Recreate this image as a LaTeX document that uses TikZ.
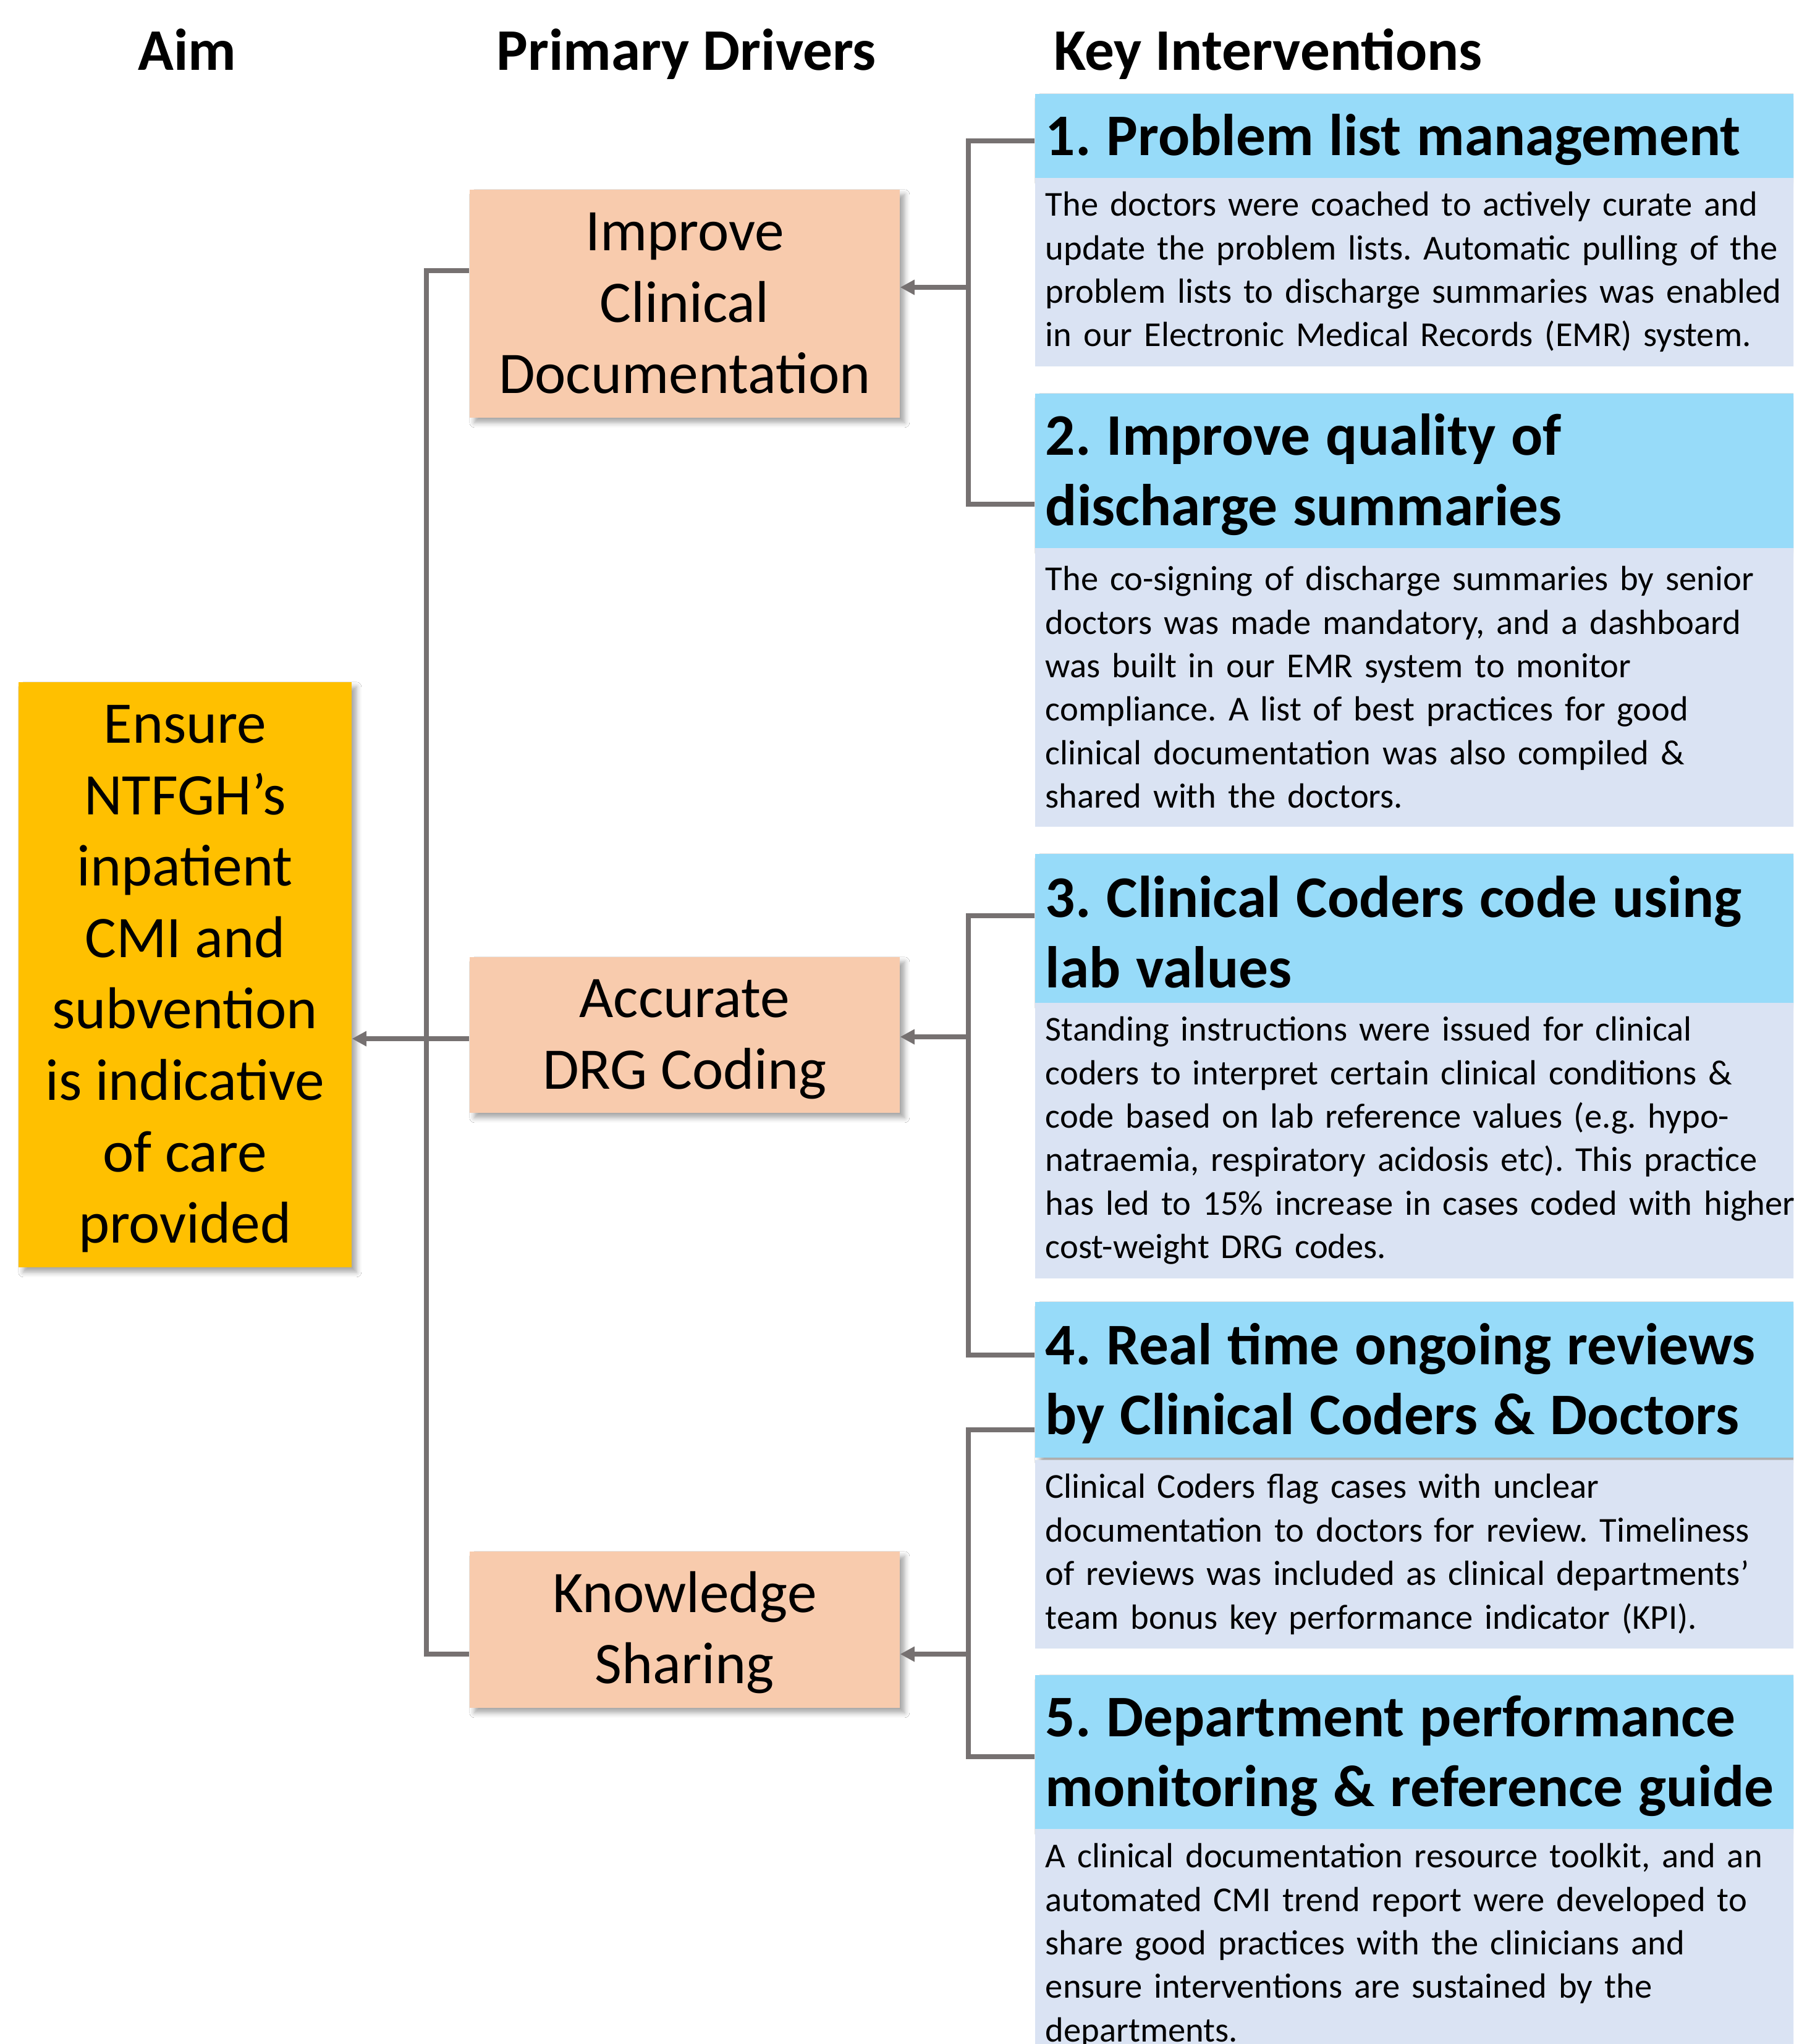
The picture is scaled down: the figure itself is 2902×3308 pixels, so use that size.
\documentclass[tikz,border=0pt]{standalone}
\usepackage{fontspec}
\setmainfont{Carlito}
\usetikzlibrary{arrows.meta,shadows.blur}
\definecolor{aimcol}{HTML}{FFC000}
\definecolor{drvcol}{HTML}{F8CBAD}
\definecolor{hdrcol}{RGB}{151,219,249}
\definecolor{bodycol}{HTML}{DAE3F3}
\definecolor{linecol}{HTML}{767171}
\frenchspacing
\newcommand{\bigstrut}{\rule[-7.0pt]{0pt}{28.9pt}}
\tikzset{
  softshadow/.style={blur shadow={shadow xshift=2pt, shadow yshift=-2pt, shadow blur radius=2pt, shadow opacity=35}},
  coltitle/.style={anchor=base, inner sep=0pt, font=\bfseries\fontsize{23.85pt}{28.75pt}\selectfont},
  aimbox/.style={fill=aimcol, anchor=north west, inner sep=0pt, minimum width=134.75pt, align=center, font=\fontsize{23.85pt}{28.9pt}\selectfont, softshadow},
  drvbox/.style={fill=drvcol, anchor=north west, inner sep=0pt, minimum width=174pt, align=center, font=\fontsize{23.85pt}{28.9pt}\selectfont, softshadow},
  hdrbox/.style={fill=hdrcol, anchor=north west, inner xsep=4.25pt, inner ysep=0pt, text width=312.5pt, align=left, font={\bfseries\fontsize{23.85pt}{28.4pt}\selectfont}, softshadow, execute at begin node={\frenchspacing\spaceskip=6.25pt\relax}},
  bodybox/.style={fill=bodycol, anchor=north west, inner xsep=4.25pt, inner ysep=0pt, text width=312.5pt, align=left, font={\fontsize{14.15pt}{17.6pt}\selectfont\frenchspacing}},
  conn/.style={draw=linecol, line width=1.9pt, line join=miter},
  arr/.style={conn, -{Triangle[length=5.8pt, width=5.8pt]}}
}
\newcommand{\hstrut}{\rule{0pt}{19.8pt}}
\begin{document}
\begin{tikzpicture}[x=0.25pt, y=-0.25pt]
\useasboundingbox (0,0) rectangle (2902,3308);
\clip (0,0) rectangle (2902,3308);
\fill[white] (0,0) rectangle (2902,3308);

% column titles
\node[coltitle] (tAim) at (303,113) {Aim};
\node[coltitle] (tDrv) at (1111,113) {Primary Drivers};
\node[coltitle] (tKey) at (2052,113) {Key Interventions};

% aim
\node[aimbox, minimum height=236.75pt] (A) at (29,1103)
  {\bigstrut Ensure\\NTFGH’s\\inpatient\\CMI and\\subvention\\is indicative\\of care\\provided\bigstrut};

% primary drivers
\node[drvbox, minimum height=92.25pt] (D1) at (759,306) {\bigstrut Improve\\Clinical\\Documentation\bigstrut};
\node[drvbox, minimum height=63pt] (D2) at (759,1548) {\bigstrut Accurate\\DRG Coding\bigstrut};
\node[drvbox, minimum height=63.25pt] (D3) at (759,2510) {\bigstrut Knowledge\\Sharing\bigstrut};

% key interventions
\node[hdrbox, minimum height=34pt] (H1) at (1674,151) {\hstrut 1. Problem list management};
\node[bodybox, minimum height=76.25pt] (B1) at (1674,287)
  {The doctors were coached to actively curate and\\
   update the problem lists. Automatic pulling of the\\
   problem lists to discharge summaries was enabled\\
   in our Electronic Medical Records (EMR) system.};

\node[hdrbox, minimum height=62.5pt] (H2) at (1674,636) {\hstrut 2. Improve quality of\\discharge summaries};
\node[bodybox, minimum height=112.75pt] (B2) at (1674,886)
  {The co-signing of discharge summaries by senior\\
   doctors was made mandatory, and a dashboard\\
   was built in our EMR system to monitor\\
   compliance. A list of best practices for good\\
   clinical documentation was also compiled \&\\
   shared with the doctors.};

\node[hdrbox, minimum height=60.25pt] (H3) at (1674,1381) {\hstrut 3. Clinical Coders code using\\lab values};
\node[bodybox, minimum height=111.5pt] (B3) at (1674,1622)
  {Standing instructions were issued for clinical\\
   coders to interpret certain clinical conditions \&\\
   code based on lab reference values (e.g. hypo-\\
   natraemia, respiratory acidosis etc). This practice\\
   has led to 15\% increase in cases coded with higher\\
   cost-weight DRG codes.};

\node[hdrbox, minimum height=63pt] (H4) at (1674,2106) {\hstrut 4. Real time ongoing reviews\\by Clinical Coders \& Doctors};
\node[bodybox, minimum height=76.25pt] (B4) at (1674,2362)
  {Clinical Coders flag cases with unclear\\
   documentation to doctors for review. Timeliness\\
   of reviews was included as clinical departments’\\
   team bonus key performance indicator (KPI).};

\node[hdrbox, minimum height=62.25pt] (H5) at (1674,2710) {\hstrut 5. Department performance\\monitoring \& reference guide};
\node[bodybox, minimum height=94.25pt] (B5) at (1674,2959)
  {A clinical documentation resource toolkit, and an\\
   automated CMI trend report were developed to\\
   share good practices with the clinicians and\\
   ensure interventions are sustained by the\\
   departments.};

% junction points
\coordinate (t1) at (690,438);
\coordinate (t2) at (690,1681);
\coordinate (t3) at (690,2677);
\coordinate (k1a) at (1567,228);
\coordinate (k1m) at (1567,465);
\coordinate (k1b) at (1567,816);
\coordinate (k2a) at (1567,1482);
\coordinate (k2m) at (1567,1678);
\coordinate (k2b) at (1567,2193);
\coordinate (k3a) at (1567,2314);
\coordinate (k3m) at (1567,2677);
\coordinate (k3b) at (1567,2843);

% drivers to aim
\draw[conn] (D1.west |- t1) -- (t1) -- (t3) -- (D3.west |- t3);
\draw[arr] (D2.west |- t2) -- (A.east |- t2);

% interventions to drivers
\draw[conn] (H1.west |- k1a) -- (k1a) -- (k1b) -- (H2.west |- k1b);
\draw[arr] (k1m) -- (D1.east |- k1m);
\draw[conn] (H3.west |- k2a) -- (k2a) -- (k2b) -- (H4.west |- k2b);
\draw[arr] (k2m) -- (D2.east |- k2m);
\draw[conn] (H4.west |- k3a) -- (k3a) -- (k3b) -- (H5.west |- k3b);
\draw[arr] (k3m) -- (D3.east |- k3m);
\end{tikzpicture}
\end{document}
